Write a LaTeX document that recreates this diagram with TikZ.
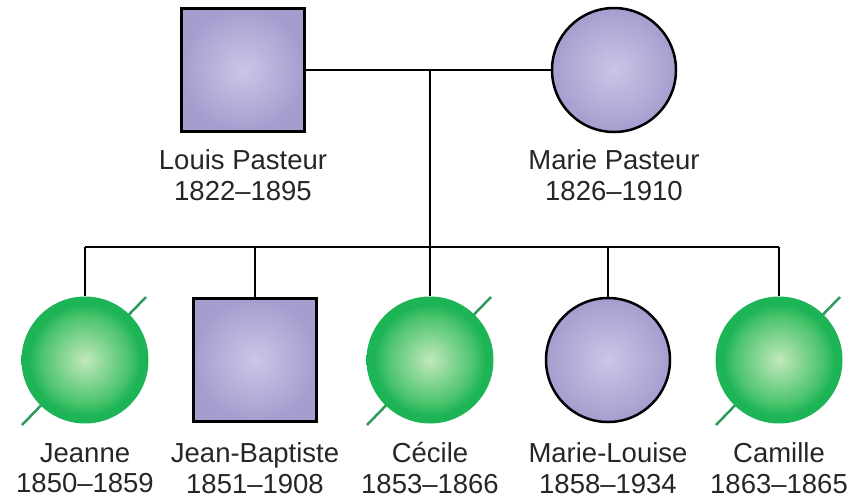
\documentclass[tikz,border=0pt]{standalone}
\usepackage{fontspec}
\setmainfont{Liberation Sans}
\usetikzlibrary{calc}
\definecolor{lilacin}{HTML}{CAC6E6}
\definecolor{lilacout}{HTML}{A69DCF}
\definecolor{greenin}{HTML}{C2E8BC}
\definecolor{greenmid}{HTML}{4CC46E}
\definecolor{greenout}{HTML}{1DB455}
\definecolor{slashgreen}{HTML}{2F9A5C}
% shaded ball for the deceased children
\pgfdeclareradialshading{greenball}{\pgfpoint{0bp}{0bp}}{%
  color(0bp)=(greenin); color(17bp)=(greenmid); color(22bp)=(greenout);
  color(25bp)=(greenout); color(50bp)=(greenout)}
\begin{document}
\begin{tikzpicture}[x=1pt,y=-1pt,
  male/.style={rectangle, draw=black, line width=2.5pt, minimum size=123pt,
    inner sep=0pt, shading=radial, inner color=lilacin, outer color=lilacout},
  female/.style={circle, draw=black, line width=2.5pt, minimum size=124pt,
    inner sep=0pt, shading=radial, inner color=lilacin, outer color=lilacout},
  deceased/.style={circle, minimum size=127pt, inner sep=0pt, shading=greenball},
  slash/.style={draw=slashgreen, line width=2.5pt},
  kin/.style={draw=black, line width=2.5pt},
  plabel/.style={font=\fontsize{27.5}{30.5}\selectfont, align=center, inner sep=0pt,
    text=black!85}
]
\useasboundingbox (0,0) rectangle (863,499);

% parents
\node[male] (louis) at (243,70) {};
\node[female] (marie) at (614,70) {};
\node[plabel] (louislbl) at (243,175) {Louis Pasteur\\1822--1895};
\node[plabel] (marielbl) at (614,175) {Marie Pasteur\\1826--1910};

% line of descent
\coordinate (union) at (430,70);
\coordinate (sibs) at (430,247);
\coordinate (sjeanne) at (85,247);
\coordinate (sjb) at (255,247);
\coordinate (scecile) at (430,247);
\coordinate (sml) at (608,247);
\coordinate (scamille) at (779,247);

\draw[kin] (louis.east) -- (marie.west);
\draw[kin] (union) -- (sibs);
\draw[kin] (sjeanne) -- (scamille);

% children: slashes first, balls on top
\foreach \n/\x in {jeanne/85, cecile/430, camille/779}{
  \coordinate (\n-a) at (\x-63,425);
  \coordinate (\n-b) at (\x+61,297);
  \draw[slash] (\n-a) -- (\n-b);
}
\node[deceased] (jeanne) at (85,360) {};
\node[male] (jb) at (255,360) {};
\node[deceased] (cecile) at (430,360) {};
\node[female] (ml) at (608,360) {};
\node[deceased] (camille) at (779,360) {};

\draw[kin] (sjeanne) -- (jeanne.north);
\draw[kin] (sjb) -- (jb.north);
\draw[kin] (scecile) -- (cecile.north);
\draw[kin] (sml) -- (ml.north);
\draw[kin] (scamille) -- (camille.north);

\node[plabel] (jeannelbl) at (85,468) {Jeanne\\1850--1859};
\node[plabel] (jblbl) at (255,468) {Jean-Baptiste\\1851--1908};
\node[plabel] (cecilelbl) at (430,468) {Cécile\\1853--1866};
\node[plabel] (mllbl) at (608,468) {Marie-Louise\\1858--1934};
\node[plabel] (camillelbl) at (779,468) {Camille\\1863--1865};
\end{tikzpicture}
\end{document}
